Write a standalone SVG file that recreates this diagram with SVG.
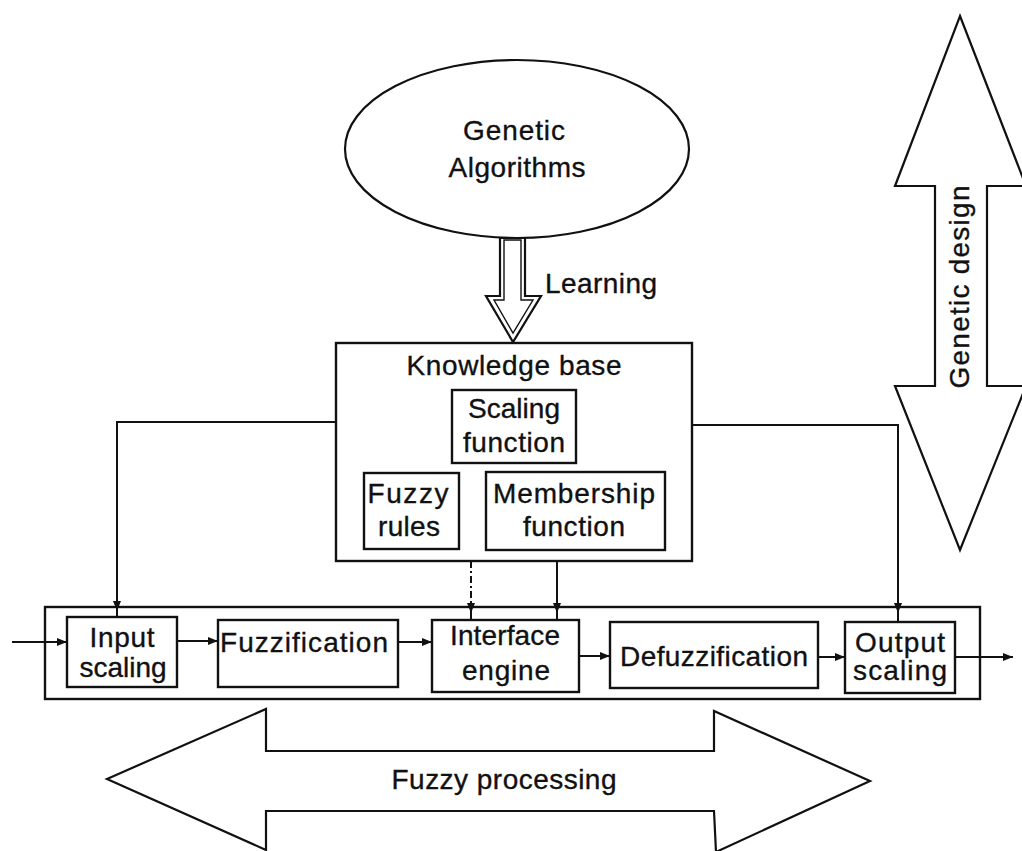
<svg xmlns="http://www.w3.org/2000/svg" width="1022" height="851" viewBox="0 0 1022 851">
  <defs>
    <marker id="ah" viewBox="0 0 10 8" refX="10" refY="4" markerWidth="10" markerHeight="8" markerUnits="userSpaceOnUse" orient="auto">
      <path d="M0,0 L10,4 L0,8 z" fill="#111"/>
    </marker>
    <style>
      .box { fill: none; stroke: #111; stroke-width: 2.4; }
      .shape { fill: #fff; stroke: #111; stroke-width: 2.2; stroke-linejoin: miter; }
      .wire { fill: none; stroke: #111; stroke-width: 2; }
      .dash { stroke-dasharray: 7 3 2 3; }
      .lbl { font-family: "Liberation Sans", Arial, Helvetica, sans-serif; font-size: 28px; fill: #111; stroke: #111; stroke-width: 0.35; text-anchor: middle; }
      .start { text-anchor: start; }
    </style>
  </defs>

  <rect width="1022" height="851" fill="#fff"/>

  <!-- Genetic design double arrow (right edge, runs off the page) -->
  <g id="genetic-design">
    <polygon class="shape" points="960,16 1026,186 987,186 987,386 1026,386 960,550 895,386 935,386 935,186 895,186"/>
    <text class="lbl" x="969" y="287" transform="rotate(-90 969 287)" textLength="203" lengthAdjust="spacing">Genetic design</text>
  </g>

  <!-- Fuzzy processing double arrow -->
  <g id="fuzzy-processing">
    <polygon class="shape" points="107,779 266,709 266,751 714,751 714,711 870,781 716,852 714,811 266,811 266,850"/>
    <text class="lbl" x="504" y="789" textLength="225" lengthAdjust="spacing">Fuzzy processing</text>
  </g>

  <!-- Genetic algorithms -->
  <g id="genetic-algorithms">
    <ellipse class="shape" cx="517" cy="149" rx="172" ry="89"/>
    <text class="lbl" x="514" y="140" textLength="102" lengthAdjust="spacing">Genetic</text>
    <text class="lbl" x="517" y="177" textLength="137" lengthAdjust="spacing">Algorithms</text>
  </g>

  <!-- Learning: hollow double-outlined arrow into the knowledge base -->
  <g id="learning">
    <polygon class="shape" points="500,238 525,238 525,296 541,296 513,342 486,296 500,296"/>
    <polygon fill="none" stroke="#111" stroke-width="1.4" points="504,240 521,240 521,300 533,300 513,333 494,300 504,300"/>
    <text class="lbl start" x="545" y="293" textLength="112" lengthAdjust="spacing">Learning</text>
  </g>

  <!-- Knowledge base and its contents -->
  <g id="knowledge-base">
    <rect class="box" x="336" y="343" width="356" height="218"/>
    <text class="lbl" x="514" y="375" textLength="215" lengthAdjust="spacing">Knowledge base</text>
  </g>
  <g id="scaling-function">
    <rect class="box" x="452" y="390" width="124" height="73"/>
    <text class="lbl" x="514" y="418" textLength="92" lengthAdjust="spacing">Scaling</text>
    <text class="lbl" x="514" y="452" textLength="102" lengthAdjust="spacing">function</text>
  </g>
  <g id="fuzzy-rules">
    <rect class="box" x="364" y="473" width="95" height="76"/>
    <text class="lbl" x="408" y="503" textLength="81" lengthAdjust="spacing">Fuzzy</text>
    <text class="lbl" x="409" y="536" textLength="62" lengthAdjust="spacing">rules</text>
  </g>
  <g id="membership-function">
    <rect class="box" x="486" y="472" width="179" height="78"/>
    <text class="lbl" x="574" y="503" textLength="162" lengthAdjust="spacing">Membership</text>
    <text class="lbl" x="574" y="536" textLength="102" lengthAdjust="spacing">function</text>
  </g>

  <!-- Fuzzy controller frame -->
  <g id="controller-frame">
    <rect class="box" x="45" y="607" width="935" height="92"/>
  </g>

  <!-- Processing chain -->
  <g id="input-scaling">
    <rect class="box" x="67" y="617" width="110" height="70"/>
    <text class="lbl" x="122" y="647" textLength="65" lengthAdjust="spacing">Input</text>
    <text class="lbl" x="123" y="677" textLength="87" lengthAdjust="spacing">scaling</text>
  </g>
  <g id="fuzzification">
    <rect class="box" x="218" y="620" width="180" height="67"/>
    <text class="lbl" x="304" y="652" textLength="168" lengthAdjust="spacing">Fuzzification</text>
  </g>
  <g id="interface-engine">
    <rect class="box" x="432" y="620" width="147" height="72"/>
    <text class="lbl" x="505" y="645" textLength="110" lengthAdjust="spacing">Interface</text>
    <text class="lbl" x="506" y="680" textLength="88" lengthAdjust="spacing">engine</text>
  </g>
  <g id="defuzzification">
    <rect class="box" x="610" y="622" width="208" height="66"/>
    <text class="lbl" x="714" y="666" textLength="188" lengthAdjust="spacing">Defuzzification</text>
  </g>
  <g id="output-scaling">
    <rect class="box" x="845" y="622" width="110" height="71"/>
    <text class="lbl" x="900" y="652" textLength="90" lengthAdjust="spacing">Output</text>
    <text class="lbl" x="900" y="680" textLength="94" lengthAdjust="spacing">scaling</text>
  </g>

  <!-- Connectors -->
  <g id="connectors">
    <line class="wire" x1="12" y1="642" x2="67" y2="642" marker-end="url(#ah)"/>
    <line class="wire" x1="177" y1="641" x2="218" y2="641" marker-end="url(#ah)"/>
    <line class="wire" x1="398" y1="642" x2="432" y2="642" marker-end="url(#ah)"/>
    <line class="wire" x1="579" y1="656" x2="610" y2="656" marker-end="url(#ah)"/>
    <line class="wire" x1="818" y1="657" x2="845" y2="657" marker-end="url(#ah)"/>
    <line class="wire" x1="955" y1="657" x2="1013" y2="657" marker-end="url(#ah)"/>

    <!-- knowledge base feeds: arrowhead sits on the frame, line continues to the block -->
    <path class="wire" d="M336,422 H117 V611" marker-end="url(#ah)"/>
    <line class="wire" x1="117" y1="611" x2="117" y2="617"/>
    <path class="wire dash" d="M471,561 V613" marker-end="url(#ah)"/>
    <line class="wire" x1="471" y1="613" x2="471" y2="620"/>
    <path class="wire" d="M557,561 V613" marker-end="url(#ah)"/>
    <line class="wire" x1="557" y1="613" x2="557" y2="620"/>
    <path class="wire" d="M692,425 H898 V613" marker-end="url(#ah)"/>
    <line class="wire" x1="898" y1="613" x2="898" y2="622"/>
  </g>
</svg>
